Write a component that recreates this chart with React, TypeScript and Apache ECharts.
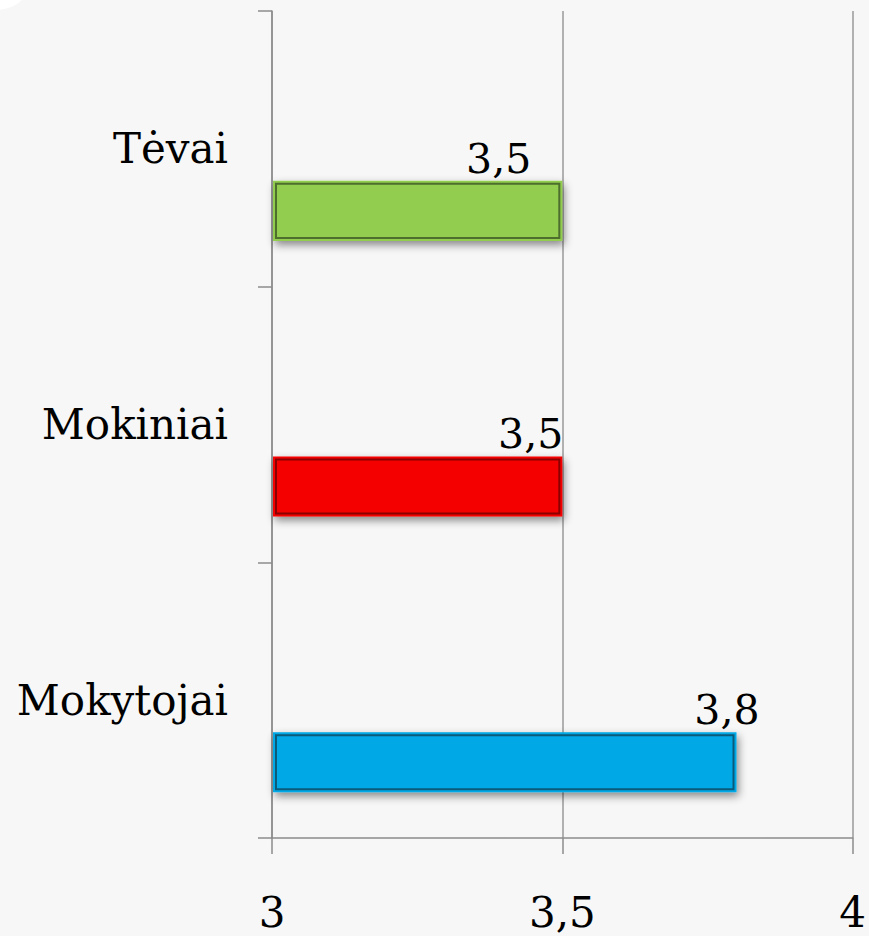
import React, { useEffect, useRef } from "react";
import * as echarts from "echarts";

// Data
const categories = ["Mokytojai", "Mokiniai", "Tėvai"]; // bottom to top
const values = [3.8, 3.5, 3.5];
const xTicks = { min: 3, max: 4, interval: 0.5 };

// Styles
const fillColors = ["#00a9e6", "#f50000", "#92cd50"];
const borderColors = ["#0a5a7a", "#8a0000", "#4d6e2c"];
const labelDx = [23, 1, -31];
const FONT = "DejaVu Serif";

export default function App() {
  const ref = useRef<HTMLDivElement>(null);
  useEffect(() => {
    if (!ref.current) return;
    const chart = echarts.init(ref.current, undefined, { renderer: "svg" });
    const fmt = (v: number) => String(v).replace(".", ",");
    chart.setOption({
      animation: false,
      backgroundColor: "#f7f7f7",
      graphic: [
        {
          type: "ellipse",
          shape: { cx: -5, cy: -12, rx: 32, ry: 22 },
          style: { fill: "#ffffff" },
          z: -1,
        },
      ],
      grid: { left: 272, right: 16, top: 11, bottom: 98, containLabel: false },
      xAxis: {
        type: "value",
        min: xTicks.min,
        max: xTicks.max,
        interval: xTicks.interval,
        axisLine: { show: true, lineStyle: { color: "#8c8c8c", width: 1.5 } },
        axisTick: { show: true, length: 16, lineStyle: { color: "#8c8c8c", width: 1.5 } },
        splitLine: { show: true, lineStyle: { color: "#9a9a9a", width: 1.5 } },
        axisLabel: {
          formatter: (v: number) => fmt(v),
          fontFamily: FONT,
          fontSize: 42,
          color: "#000",
          margin: 57,
          lineHeight: 34,
        },
      },
      yAxis: {
        type: "category",
        data: categories,
        boundaryGap: true,
        axisLine: { show: true, lineStyle: { color: "#8c8c8c", width: 1.5 } },
        axisTick: { show: true, length: 14, lineStyle: { color: "#8c8c8c", width: 1.5 } },
        splitLine: { show: false },
        axisLabel: {
          fontFamily: FONT,
          fontSize: 42,
          color: "#000",
          margin: 44,
        },
      },
      series: [
        {
          type: "custom",
          encode: { x: 0, y: 1 },
          data: values.map((v, i) => [v, i]),
          renderItem: (params: any, api: any) => {
            const idx = api.value(1);
            const val = api.value(0);
            const start = api.coord([xTicks.min, idx]);
            const end = api.coord([val, idx]);
            const band = api.size([0, 1])[1];
            const h = band * 0.218;
            const cy = start[1] + band * 0.225;
            const x0 = start[0] + 1;
            const w = end[0] - x0;
            const top = cy - h / 2;
            return {
              type: "group",
              children: [
                {
                  type: "rect",
                  shape: { x: x0, y: top, width: w, height: h },
                  style: {
                    fill: fillColors[idx],
                    shadowBlur: 8,
                    shadowColor: "rgba(0,0,0,0.45)",
                    shadowOffsetX: 2,
                    shadowOffsetY: 4,
                  },
                },
                {
                  type: "rect",
                  shape: { x: x0 + 3, y: top + 3, width: w - 6, height: h - 6 },
                  style: {
                    fill: fillColors[idx],
                    stroke: borderColors[idx],
                    lineWidth: 2,
                  },
                },
                {
                  type: "text",
                  x: end[0] + labelDx[idx],
                  y: top - 22,
                  style: {
                    text: fmt(val),
                    fontFamily: FONT,
                    fontSize: 41,
                    fill: "#000",
                    align: "right",
                    verticalAlign: "middle",
                  },
                },
              ],
            };
          },
        },
      ],
    });
    return () => chart.dispose();
  }, []);
  return (
    <div
      ref={ref}
      style={{ position: "fixed", left: 0, top: 0, width: 869, height: 936 }}
    />
  );
}
